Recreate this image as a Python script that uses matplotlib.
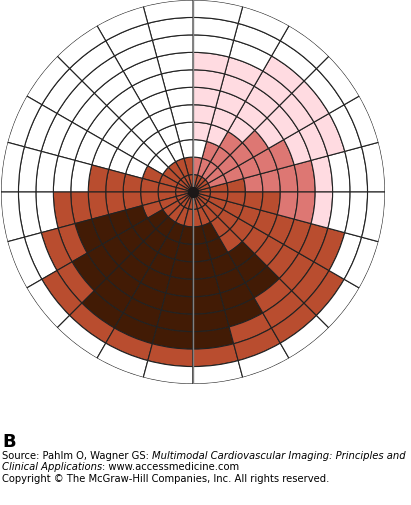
import numpy as np
import matplotlib.pyplot as plt

# one string per 15-degree sector, counter-clockwise from 3 o'clock,
# one letter per ring from the centre outwards
sector_cells = [
    "RRRMMMMLWWW",  # 0-15
    "RMMMMMLLLWW",  # 15-30
    "RMMMMLLLLWW",  # 30-45
    "RMMMLLLLLWW",  # 45-60
    "RMMLLLLLWWW",  # 60-75
    "RMWLLLLLWWW",  # 75-90
    "RRWWWWWWWWW",  # 90-105
    "RRWWWWWWWWW",
    "RRWWWWWWWWW",
    "RRWWWWWWWWW",
    "RRRWWWWWWWW",  # 150-165
    "RRRRRRWWWWW",  # 165-180
    "RRRRRRRRWWW",  # 180-195
    "RRRDDDDRRWW",  # 195-210
    "RRDDDDDDRRW",
    "RRDDDDDDDRW",
    "RRDDDDDDDRW",
    "RRDDDDDDDRW",
    "RRDDDDDDDRW",
    "RRDDDDDDRRW",  # 285-300
    "RRRRDDDRRRW",  # 300-315
    "RRRRRRRRRRW",
    "RRRRRRRRRWW",
    "RRRRRMMLWWW",  # 345-360
]
colors = {"W": "#ffffff", "L": "#ffdbe1", "M": "#dd7773",
          "R": "#b94d2f", "D": "#421b05"}

n_sec = len(sector_cells)
n_ring = len(sector_cells[0])
width = 2 * np.pi / n_sec

fig = plt.figure(figsize=(4.11, 5.05), dpi=100)
ax = fig.add_axes([1 / 411, 121 / 505, 384 / 411, 384 / 505], projection="polar")

for j, cells in enumerate(sector_cells):
    theta = (j + 0.5) * width
    for k, c in enumerate(cells):
        ax.bar(theta, 1, width=width, bottom=k, color=colors[c],
               edgecolor="#222222", linewidth=0.8, align="center")

ax.plot([np.pi / 2, np.pi / 2], [0, n_ring], color="#808080", lw=1.0, zorder=3)
ax.plot([3 * np.pi / 2, 3 * np.pi / 2], [0, n_ring], color="#808080", lw=1.0, zorder=3)
ax.plot([0], [0], "o", color="#1c1818", ms=7, zorder=4)

ax.set_ylim(0, n_ring)
ax.set_xticks([])
ax.set_yticks([])
ax.grid(False)
ax.spines["polar"].set_visible(False)

fig.text(0.005, 1 - 447 / 505, "B", fontsize=13, fontweight="bold")

# source line with mixed styles
fs = 7.18
fig.canvas.draw()
r = fig.canvas.get_renderer()
x = 0.005
y1 = 1 - 459 / 505
for s, st in [("Source: Pahlm O, Wagner GS: ", "normal"),
              ("Multimodal Cardiovascular Imaging: Principles and", "italic")]:
    t = fig.text(x, y1, s, fontsize=fs, style=st)
    bb = t.get_window_extent(r)
    x = bb.x1 / fig.bbox.width
x = 0.005
y2 = 1 - 470 / 505
for s, st in [("Clinical Applications", "italic"),
              (": www.accessmedicine.com", "normal")]:
    t = fig.text(x, y2, s, fontsize=fs, style=st)
    bb = t.get_window_extent(r)
    x = bb.x1 / fig.bbox.width
fig.text(0.005, 1 - 482 / 505,
         "Copyright \u00a9 The McGraw-Hill Companies, Inc. All rights reserved.",
         fontsize=fs)

fig.savefig("out.png", dpi=100)
